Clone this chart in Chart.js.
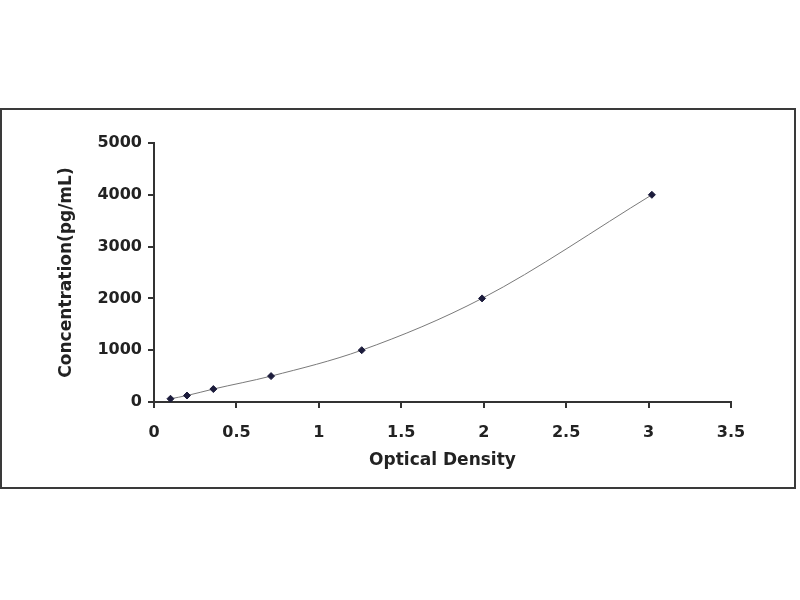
<!DOCTYPE html>
<html>
<head>
<meta charset="utf-8">
<script src="https://cdn.jsdelivr.net/npm/chart.js@4/dist/chart.umd.min.js"></script>
<style>
  html, body { margin: 0; padding: 0; background: #fff; }
  #wrap { width: 800px; height: 600px; }
</style>
</head>
<body>
<div id="wrap"><canvas id="curva"></canvas></div>
<script>
// standard curve points
var densidad = [0.1, 0.2, 0.36, 0.71, 1.26, 1.99, 3.02];
var concentracion = [62.5, 125, 250, 500, 1000, 2000, 4000];
var ticksX = [0, 0.5, 1, 1.5, 2, 2.5, 3, 3.5];
var ticksY = [0, 1000, 2000, 3000, 4000, 5000];

var puntos = densidad.map(function(d, i){ return { x: d, y: concentracion[i] }; });

// outer frame around the figure
var marco = {
	id: 'marco',
	beforeDraw: function(chart){
		var ctx = chart.ctx;
		ctx.save();
		ctx.fillStyle = '#fff';
		ctx.fillRect(0, 0, chart.width, chart.height);
		ctx.strokeStyle = '#3a3a3a';
		ctx.lineWidth = 2;
		ctx.strokeRect(1, 109, 794, 379);
		ctx.restore();
	}
};

var fuenteTick = { family: 'DejaVu Sans, sans-serif', size: 16, weight: 'bold' };
var fuenteTitulo = { family: 'DejaVu Sans, sans-serif', size: 17, weight: 'bold' };

new Chart(document.getElementById('curva'), {
	type: 'scatter',
	data: {
		datasets: [{
			data: puntos,
			showLine: true,
			cubicInterpolationMode: 'monotone',
			borderColor: '#7a7a7a',
			borderWidth: 1,
			pointStyle: 'rectRot',
			pointRadius: 3.5,
			pointBackgroundColor: '#1c1c3c',
			pointBorderColor: '#1c1c3c'
		}]
	},
	options: {
		responsive: true,
		maintainAspectRatio: false,
		animation: false,
		layout: { padding: { left: 52, right: 69, top: 143, bottom: 125 } },
		plugins: { legend: { display: false }, tooltip: { enabled: false } },
		scales: {
			x: {
				type: 'linear',
				min: 0, max: 3.5,
				afterBuildTicks: function(s){ s.ticks = ticksX.map(function(v){ return { value: v }; }); },
				afterFit: function(s){ s.height = 73; },
				border: { display: true, color: '#333', width: 2 },
				grid: { drawOnChartArea: false, drawTicks: true, tickLength: 6, color: '#333', lineWidth: 2 },
				ticks: { color: '#222', font: fuenteTick, padding: 15, callback: function(v){ return String(v); } },
				title: { display: true, text: 'Optical Density', color: '#222', font: fuenteTitulo, padding: { top: 4, bottom: 4 } }
			},
			y: {
				type: 'linear',
				min: 0, max: 5000,
				afterBuildTicks: function(s){ s.ticks = ticksY.map(function(v){ return { value: v }; }); },
				afterFit: function(s){ s.width = 102; },
				border: { display: true, color: '#333', width: 2 },
				grid: { drawOnChartArea: false, drawTicks: true, tickLength: 6, color: '#333', lineWidth: 2 },
				ticks: { color: '#222', font: fuenteTick, padding: 6, callback: function(v){ return String(v); } },
				title: { display: true, text: 'Concentration(pg/mL)', color: '#222', font: fuenteTitulo, padding: { top: 4, bottom: 4 } }
			}
		}
	},
	plugins: [marco]
});
</script>
</body>
</html>
